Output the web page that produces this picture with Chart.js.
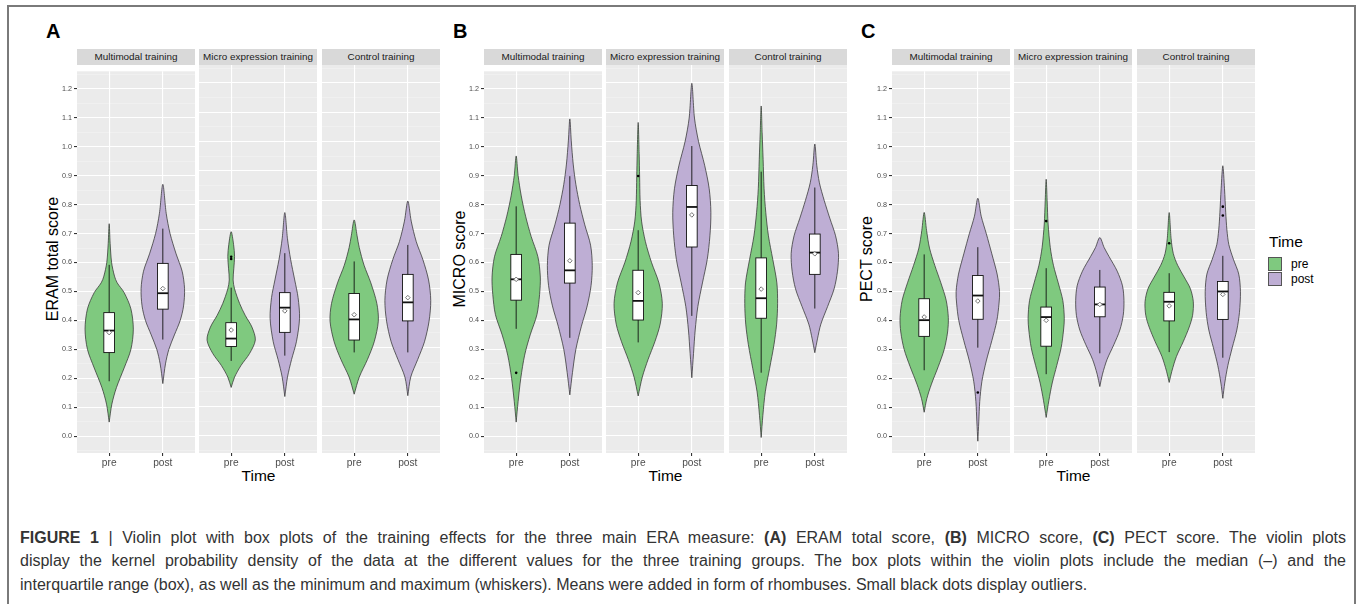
<!DOCTYPE html>
<html>
<head>
<meta charset="utf-8">
<script src="https://cdn.jsdelivr.net/npm/chart.js@4.4.1/dist/chart.umd.min.js"></script>
<style>
  body { margin: 0; background: #fff; font-family: "Liberation Sans", Arial, Helvetica, sans-serif; }
  #fig { position: relative; width: 1357px; height: 604px; overflow: hidden; }
  #frame { position: absolute; left: 7px; top: 5px; width: 1349px; height: 620px; border: 2px solid #7a7a7a; box-sizing: border-box; }
  canvas { position: absolute; }
  .txt { position: absolute; white-space: nowrap; line-height: 1; }
  .strip { position: absolute; top: 49px; height: 16px; width: 118px; background: #D9D9D9; color: #1a1a1a;
           font-size: 9.9px; line-height: 16px; text-align: center; white-space: nowrap; }
  .key { position: absolute; width: 14px; height: 14px; border: 0.8px solid #555; box-sizing: border-box; }
  .cap { position: absolute; left: 20px; width: 1326px; font-size: 16px; color: #333; white-space: nowrap; line-height: 1; }
  .just { text-align: justify; text-align-last: justify; white-space: normal; }
</style>
</head>
<body>
<div id="fig">
  <div id="frame"></div>
</div>
<script>
const facetNames = ['Multimodal training', 'Micro expression training', 'Control training'];
const timeLabels = ['pre', 'post'];
const yTickValues = [0.0, 0.1, 0.2, 0.3, 0.4, 0.5, 0.6, 0.7, 0.8, 0.9, 1.0, 1.1, 1.2];
const yTickLabels = ['0.0', '0.1', '0.2', '0.3', '0.4', '0.5', '0.6', '0.7', '0.8', '0.9', '1.0', '1.1', '1.2'];

// order in every list: multimodal pre, multimodal post, micro pre, micro post, control pre, control post
// violins: [score, relative density]

// ---- A: ERAM total score
const eramViolins = [
  [[0.049,0],[0.111,0.11],[0.168,0.30],[0.236,0.62],[0.30,0.90],[0.37,1.0],[0.44,0.90],[0.496,0.62],[0.53,0.33],[0.553,0.22],[0.60,0.10],[0.666,0.04],[0.734,0]],
  [[0.182,0],[0.25,0.11],[0.30,0.25],[0.35,0.48],[0.40,0.72],[0.45,0.86],[0.51,0.90],[0.57,0.80],[0.63,0.55],[0.70,0.30],[0.77,0.14],[0.87,0]],
  [[0.165,0],[0.20,0.14],[0.24,0.41],[0.28,0.76],[0.326,1.0],[0.37,0.86],[0.41,0.58],[0.45,0.35],[0.50,0.14],[0.53,0.08],[0.57,0.11],[0.61,0.14],[0.65,0.10],[0.694,0]],
  [[0.134,0],[0.20,0.11],[0.26,0.28],[0.32,0.48],[0.40,0.61],[0.47,0.55],[0.53,0.41],[0.60,0.24],[0.67,0.11],[0.759,0]],
  [[0.142,0],[0.20,0.21],[0.26,0.55],[0.32,0.83],[0.39,1.0],[0.45,0.94],[0.52,0.69],[0.58,0.41],[0.64,0.21],[0.68,0.12],[0.734,0]],
  [[0.137,0],[0.20,0.12],[0.26,0.41],[0.32,0.69],[0.39,0.88],[0.46,0.95],[0.53,0.86],[0.60,0.62],[0.66,0.35],[0.73,0.14],[0.798,0]]
];
const eramLow    = [0.190, 0.334, 0.255, 0.273, 0.284, 0.284];
const eramQ1     = [0.289, 0.439, 0.304, 0.352, 0.326, 0.391];
const eramMedian = [0.365, 0.494, 0.331, 0.436, 0.396, 0.454];
const eramQ3     = [0.427, 0.597, 0.385, 0.487, 0.484, 0.549];
const eramHigh   = [0.592, 0.717, 0.504, 0.621, 0.593, 0.649];
const eramMean   = [0.358, 0.510, 0.360, 0.425, 0.412, 0.470];
const eramOutliers = [[], [], [0.609, 0.601], [], [], []];

// ---- B: MICRO score
const microViolins = [
  [[0.049,0],[0.12,0.08],[0.20,0.19],[0.28,0.35],[0.35,0.58],[0.42,0.86],[0.49,0.97],[0.55,1.0],[0.62,0.90],[0.69,0.62],[0.76,0.39],[0.83,0.21],[0.90,0.08],[0.968,0]],
  [[0.143,0],[0.22,0.11],[0.30,0.25],[0.38,0.48],[0.45,0.72],[0.52,0.88],[0.59,0.93],[0.66,0.86],[0.73,0.62],[0.80,0.41],[0.87,0.25],[0.94,0.14],[1.02,0.06],[1.096,0]],
  [[0.136,0],[0.20,0.17],[0.26,0.41],[0.32,0.69],[0.38,0.91],[0.45,1.0],[0.52,0.86],[0.59,0.55],[0.66,0.30],[0.73,0.14],[0.80,0.08],[0.88,0.06],[0.96,0.04],[1.065,0]],
  [[0.198,0],[0.28,0.07],[0.36,0.14],[0.44,0.25],[0.52,0.44],[0.60,0.64],[0.68,0.75],[0.76,0.79],[0.84,0.72],[0.92,0.53],[1.00,0.28],[1.08,0.11],[1.198,0]],
  [[-0.005,0],[0.07,0.07],[0.15,0.17],[0.23,0.35],[0.31,0.53],[0.38,0.64],[0.45,0.68],[0.52,0.65],[0.60,0.48],[0.68,0.30],[0.76,0.19],[0.84,0.12],[0.94,0.08],[1.03,0.04],[1.121,0]],
  [[0.283,0],[0.33,0.11],[0.38,0.25],[0.44,0.53],[0.50,0.80],[0.56,0.94],[0.62,0.98],[0.68,0.86],[0.74,0.62],[0.80,0.39],[0.86,0.19],[0.92,0.08],[0.992,0]]
];
const microLow    = [0.371, 0.340, 0.318, 0.408, 0.215, 0.433];
const microQ1     = [0.470, 0.529, 0.394, 0.642, 0.400, 0.549];
const microMedian = [0.542, 0.573, 0.459, 0.778, 0.468, 0.623];
const microQ3     = [0.628, 0.736, 0.563, 0.851, 0.605, 0.686];
const microHigh   = [0.794, 0.898, 0.699, 0.985, 0.898, 0.844];
const microMean   = [0.542, 0.606, 0.487, 0.751, 0.499, 0.619];
const microOutliers = [[0.219], [], [0.883], [], [], []];

// ---- C: PECT score
const pectViolins = [
  [[0.083,0],[0.13,0.11],[0.18,0.30],[0.24,0.58],[0.30,0.83],[0.36,0.97],[0.41,1.0],[0.47,0.91],[0.53,0.69],[0.59,0.44],[0.65,0.22],[0.71,0.10],[0.773,0]],
  [[-0.017,0],[0.05,0.04],[0.12,0.08],[0.19,0.17],[0.26,0.35],[0.33,0.58],[0.40,0.79],[0.46,0.88],[0.50,0.90],[0.56,0.80],[0.63,0.58],[0.70,0.35],[0.76,0.14],[0.822,0]],
  [[0.063,0],[0.12,0.11],[0.18,0.25],[0.24,0.44],[0.30,0.62],[0.36,0.72],[0.40,0.75],[0.46,0.69],[0.52,0.50],[0.58,0.30],[0.64,0.17],[0.72,0.08],[0.80,0.04],[0.872,0]],
  [[0.168,0],[0.21,0.11],[0.26,0.30],[0.31,0.58],[0.36,0.83],[0.41,0.97],[0.46,1.0],[0.51,0.94],[0.56,0.72],[0.61,0.38],[0.64,0.18],[0.674,0]],
  [[0.182,0],[0.22,0.11],[0.27,0.30],[0.32,0.58],[0.37,0.83],[0.41,0.97],[0.456,1.0],[0.50,0.88],[0.54,0.62],[0.58,0.35],[0.62,0.17],[0.67,0.08],[0.759,0]],
  [[0.128,0],[0.18,0.08],[0.24,0.21],[0.30,0.39],[0.36,0.58],[0.42,0.69],[0.49,0.73],[0.55,0.66],[0.60,0.44],[0.65,0.25],[0.70,0.17],[0.76,0.12],[0.84,0.07],[0.918,0]]
];
const pectLow    = [0.228, 0.306, 0.210, 0.281, 0.285, 0.266];
const pectQ1     = [0.345, 0.404, 0.305, 0.405, 0.391, 0.396];
const pectMedian = [0.401, 0.486, 0.404, 0.447, 0.456, 0.491];
const pectQ3     = [0.475, 0.555, 0.438, 0.506, 0.488, 0.525];
const pectHigh   = [0.628, 0.653, 0.570, 0.564, 0.553, 0.612];
const pectMean   = [0.412, 0.467, 0.393, 0.447, 0.442, 0.481];
const pectOutliers = [[], [0.151], [0.730], [], [0.655], [0.779, 0.749]];

const FONT = '"Liberation Sans", Arial, Helvetica, sans-serif';
const timeColors = ['#7FC97F', '#BEAED4'];
const panelLeft = [77, 484, 892];
const facetOffset = [0, 122, 245];
const FACET_W = 118, PLOT_TOP = 65, PLOT_H = 388, XAXIS_H = 17, YAXIS_W = 30;

const panels = [
  { letter: 'A', title: 'ERAM total score', violins: eramViolins, low: eramLow, q1: eramQ1, med: eramMedian, q3: eramQ3, high: eramHigh, mean: eramMean, out: eramOutliers },
  { letter: 'B', title: 'MICRO score', violins: microViolins, low: microLow, q1: microQ1, med: microMedian, q3: microQ3, high: microHigh, mean: microMean, out: microOutliers },
  { letter: 'C', title: 'PECT score', violins: pectViolins, low: pectLow, q1: pectQ1, med: pectMedian, q3: pectQ3, high: pectHigh, mean: pectMean, out: pectOutliers }
];

// major + minor y grid values
const yGrid = [];
yTickValues.forEach((v, i) => {
  yGrid.push({ value: +(v - 0.05).toFixed(2) });
  yGrid.push({ value: v });
  if (i === yTickValues.length - 1) yGrid.push({ value: +(v + 0.05).toFixed(2) });
});
const isMajor = v => Math.abs(v * 10 - Math.round(v * 10)) < 1e-6;

const fig = document.getElementById('fig');
function addText(html, x, y, size, opts = {}) {
  const d = document.createElement('div');
  d.className = 'txt';
  d.innerHTML = html;
  d.style.fontSize = size + 'px';
  d.style.left = x + 'px';
  d.style.top = y + 'px';
  d.style.color = opts.color || '#000';
  if (opts.bold) d.style.fontWeight = 'bold';
  d.style.transform = (opts.center ? 'translate(-50%,-50%)' : 'translateY(-50%)') + (opts.rotate ? ' rotate(-90deg)' : '');
  fig.appendChild(d);
  return d;
}

function violinPoints(profile, centre) {
  const pts = profile.map(([v, d]) => ({ x: centre + d * 0.45, y: v }));
  for (let k = profile.length - 2; k >= 1; k--) pts.push({ x: centre - profile[k][1] * 0.45, y: profile[k][0] });
  pts.push({ x: centre, y: profile[0][0] });
  return pts;
}

function boxPlugin(p, f) {
  return {
    id: 'facetDecor',
    beforeDraw(chart) {
      const a = chart.chartArea, ctx = chart.ctx;
      ctx.save();
      ctx.fillStyle = '#EBEBEB';
      ctx.fillRect(a.left, a.top, a.right - a.left, a.bottom - a.top);
      ctx.restore();
    },
    afterDatasetsDraw(chart) {
      const ctx = chart.ctx, xs = chart.scales.x, ys = chart.scales.y;
      ctx.save();
      for (let t = 0; t < 2; t++) {
        const i = f * 2 + t;
        const cx = xs.getPixelForValue(t + 1);
        const hw = xs.getPixelForValue(t + 1.1) - cx;
        // whisker
        ctx.strokeStyle = '#111';
        ctx.lineWidth = 0.9;
        ctx.beginPath();
        ctx.moveTo(cx, ys.getPixelForValue(p.low[i]));
        ctx.lineTo(cx, ys.getPixelForValue(p.high[i]));
        ctx.stroke();
        // box
        const yTop = ys.getPixelForValue(p.q3[i]), yBot = ys.getPixelForValue(p.q1[i]);
        ctx.fillStyle = '#fff';
        ctx.fillRect(cx - hw, yTop, hw * 2, yBot - yTop);
        ctx.strokeRect(cx - hw, yTop, hw * 2, yBot - yTop);
        // median
        ctx.lineWidth = 1.8;
        ctx.beginPath();
        const ym = ys.getPixelForValue(p.med[i]);
        ctx.moveTo(cx - hw, ym);
        ctx.lineTo(cx + hw, ym);
        ctx.stroke();
        // outliers
        ctx.fillStyle = '#000';
        p.out[i].forEach(v => {
          ctx.beginPath();
          ctx.arc(cx, ys.getPixelForValue(v), 1.3, 0, Math.PI * 2);
          ctx.fill();
        });
        // mean (rhombus)
        const yMean = ys.getPixelForValue(p.mean[i]);
        const r = 2.3;
        ctx.beginPath();
        ctx.moveTo(cx, yMean - r);
        ctx.lineTo(cx + r, yMean);
        ctx.lineTo(cx, yMean + r);
        ctx.lineTo(cx - r, yMean);
        ctx.closePath();
        ctx.fillStyle = '#fff';
        ctx.fill();
        ctx.strokeStyle = '#666';
        ctx.lineWidth = 0.9;
        ctx.stroke();
      }
      ctx.restore();
    }
  };
}

panels.forEach((p, pi) => {
  // panel letter, axis titles
  addText(p.letter, panelLeft[pi] - 31, 31, 20, { bold: true });
  const yTitleX = [52.5, 459.5, 866.5][pi];
  addText(p.title, yTitleX, PLOT_TOP + PLOT_H / 2, 16, { center: true, rotate: true });
  addText('Time', panelLeft[pi] + (facetOffset[2] + FACET_W) / 2, 476, 15.5, { center: true });

  facetNames.forEach((name, f) => {
    const left = panelLeft[pi] + facetOffset[f];
    const strip = document.createElement('div');
    strip.className = 'strip';
    strip.style.left = left + 'px';
    strip.textContent = name;
    fig.appendChild(strip);

    const first = f === 0;
    const canvas = document.createElement('canvas');
    const w = FACET_W + (first ? YAXIS_W : 0);
    canvas.width = w;
    canvas.height = PLOT_H + XAXIS_H;
    canvas.style.left = (left - (first ? YAXIS_W : 0)) + 'px';
    canvas.style.top = PLOT_TOP + 'px';
    canvas.style.width = w + 'px';
    canvas.style.height = (PLOT_H + XAXIS_H) + 'px';
    fig.appendChild(canvas);

    const datasets = timeLabels.map((lab, t) => ({
      label: lab,
      data: violinPoints(p.violins[f * 2 + t], t + 1),
      borderColor: '#333',
      borderWidth: 0.75,
      backgroundColor: timeColors[t],
      fill: 'shape',
      pointRadius: 0,
      tension: 0.3
    }));

    new Chart(canvas, {
      type: 'line',
      data: { datasets },
      options: {
        responsive: false,
        animation: false,
        events: [],
        devicePixelRatio: 1,
        layout: { padding: 0, autoPadding: false },
        plugins: { legend: { display: false }, tooltip: { enabled: false } },
        scales: {
          x: {
            type: 'linear', min: 0.4, max: 2.6,
            afterBuildTicks: s => { s.ticks = [{ value: 1 }, { value: 2 }]; },
            afterFit: s => { s.height = XAXIS_H; },
            ticks: { callback: (v, i) => timeLabels[i], color: '#4d4d4d', font: { size: 10.2, family: FONT }, padding: 1, maxRotation: 0, autoSkip: false },
            grid: { color: '#fff', lineWidth: 1.1, tickLength: 3, tickColor: '#333' },
            border: { display: false }
          },
          y: {
            type: 'linear', min: -0.0577, max: 1.2602,
            afterBuildTicks: s => { s.ticks = yGrid.map(t => ({ value: t.value })); },
            afterFit: s => { s.width = first ? YAXIS_W : 0; },
            ticks: {
              display: first,
              callback: v => isMajor(v) ? yTickLabels[Math.round(v * 10)] : '',
              color: '#4d4d4d', font: { size: 7.2, family: FONT }, padding: 2, autoSkip: false
            },
            grid: {
              drawTicks: first,
              tickLength: 3,
              color: c => isMajor(c.tick.value) ? '#fff' : 'rgba(255,255,255,0.45)',
              lineWidth: c => isMajor(c.tick.value) ? 1.1 : 0.6,
              tickColor: c => isMajor(c.tick.value) ? '#333' : 'rgba(0,0,0,0)'
            },
            border: { display: false }
          }
        }
      },
      plugins: [boxPlugin(p, f)]
    });
  });
});

// legend
addText('Time', 1269, 242, 15.5);
timeLabels.forEach((lab, t) => {
  const k = document.createElement('div');
  k.className = 'key';
  k.style.left = '1268px';
  k.style.top = (257 + t * 14.5) + 'px';
  k.style.background = timeColors[t];
  fig.appendChild(k);
  addText(lab, 1291, 264 + t * 14.5, 12);
});

// caption
const capLines = [
  '<b>FIGURE 1</b> | Violin plot with box plots of the training effects for the three main ERA measure: <b>(A)</b> ERAM total score, <b>(B)</b> MICRO score, <b>(C)</b> PECT score. The violin plots',
  'display the kernel probability density of the data at the different values for the three training groups. The box plots within the violin plots include the median (–) and the',
  'interquartile range (box), as well as the minimum and maximum (whiskers). Means were added in form of rhombuses. Small black dots display outliers.'
];
capLines.forEach((line, i) => {
  const d = document.createElement('div');
  d.className = 'cap' + (i < 2 ? ' just' : '');
  d.innerHTML = line;
  d.style.top = (530 + i * 23.3) + 'px';
  fig.appendChild(d);
});
</script>
</body>
</html>
